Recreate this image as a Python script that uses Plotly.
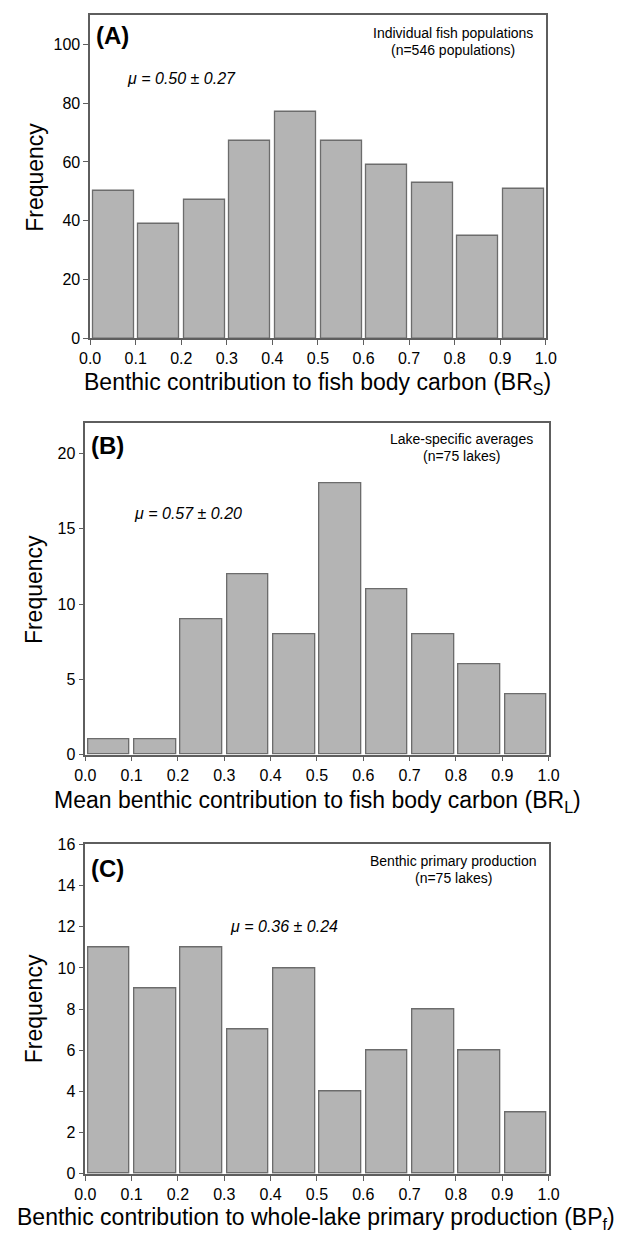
import plotly.graph_objects as go

W, H = 633, 1243

bin_starts = [0.0, 0.1, 0.2, 0.3, 0.4, 0.5, 0.6, 0.7, 0.8, 0.9]
x_ticks = [0.0, 0.1, 0.2, 0.3, 0.4, 0.5, 0.6, 0.7, 0.8, 0.9, 1.0]
x_ticklabels = ["0.0", "0.1", "0.2", "0.3", "0.4", "0.5", "0.6", "0.7", "0.8", "0.9", "1.0"]

freq_A = [50, 39, 47, 67, 77, 67, 59, 53, 35, 51]
freq_B = [1, 1, 9, 12, 8, 18, 11, 8, 6, 4]
freq_C = [11, 9, 11, 7, 10, 4, 6, 8, 6, 3]

yticks_A = [0, 20, 40, 60, 80, 100]
yticks_B = [0, 5, 10, 15, 20]
yticks_C = [0, 2, 4, 6, 8, 10, 12, 14, 16]

xtitle_A = "Benthic contribution to fish body carbon (BR<sub>S</sub>)"
xtitle_B = "Mean benthic contribution to fish body carbon (BR<sub>L</sub>)"
xtitle_C = "Benthic contribution to whole-lake primary production (BP<sub>f</sub>)"

FONT = "Arial, Liberation Sans, sans-serif"
BAR_FILL = "#b4b4b4"
BAR_LINE = "#6c6c6c"
AX = "#5e5e5e"

def px_x(x):
    return x / W

def px_y(y):
    return 1 - y / H

# panel frames in pixels: (left, right, top, bottom)
panels = [
    dict(l=82, r=554, t=7, b=335, freq=freq_A, ymax=110, yt=yticks_A),
    dict(l=77, r=557, t=421, b=757, freq=freq_B, ymax=22, yt=yticks_B),
    dict(l=77, r=557, t=848, b=1182, freq=freq_C, ymax=16, yt=yticks_C),
]

fig = go.Figure()
layout = dict(
    width=W, height=H,
    margin=dict(l=0, r=0, t=0, b=0),
    paper_bgcolor="white", plot_bgcolor="white",
    showlegend=False,
    font=dict(family=FONT, color="black"),
    bargap=0,
)

for i, p in enumerate(panels):
    sfx = "" if i == 0 else str(i + 1)
    fig.add_trace(go.Bar(
        x=[b + 0.051 for b in bin_starts], y=p["freq"], width=0.09,
        marker=dict(color=BAR_FILL, line=dict(color=BAR_LINE, width=1.3)),
        xaxis="x" + sfx, yaxis="y" + sfx, hoverinfo="skip",
    ))
    layout["xaxis" + sfx] = dict(
        domain=[px_x(p["l"]), px_x(p["r"])], range=[0, 1], anchor="y" + sfx,
        tickvals=x_ticks, ticktext=x_ticklabels, ticks="outside", ticklen=5,
        tickcolor=AX, tickwidth=1.3, showline=True, linecolor=AX, linewidth=1.5,
        mirror=True, showgrid=False, zeroline=False,
        tickfont=dict(size=16, family=FONT, color="black"),
    )
    layout["yaxis" + sfx] = dict(
        domain=[px_y(p["b"]), px_y(p["t"])], range=[0, p["ymax"]], anchor="x" + sfx,
        tickvals=p["yt"], ticks="outside", ticklen=5,
        tickcolor=AX, tickwidth=1.3, showline=True, linecolor=AX, linewidth=1.5,
        mirror=True, showgrid=False, zeroline=False,
        tickfont=dict(size=16, family=FONT, color="black"),
    )

annots = []
def ann(text, x, y, size, xanchor="center", bold=False, italic=False, angle=0):
    t = text
    if bold:
        t = "<b>" + t + "</b>"
    if italic:
        t = "<i>" + t + "</i>"
    annots.append(dict(
        text=t, x=px_x(x), y=px_y(y), xref="paper", yref="paper",
        xanchor=xanchor, yanchor="middle", showarrow=False, textangle=angle,
        font=dict(size=size, family=FONT, color="black"),
    ))

# panel labels
ann("(A)", 86, 28, 24, xanchor="left", bold=True)
ann("(B)", 81, 444, 24, xanchor="left", bold=True)
ann("(C)", 81, 872, 24, xanchor="left", bold=True)

# descriptive notes
ann("Individual fish populations", 458, 25, 14)
ann("(n=546 populations)", 458, 43, 14)
ann("Lake-specific averages", 467, 437, 14)
ann("(n=75 lakes)", 467, 454, 14)
ann("Benthic primary production", 458, 865, 14)
ann("(n=75 lakes)", 458, 882, 14)

# mean +- sd
ann("μ = 0.50 ± 0.27", 118, 71, 16, xanchor="left", italic=True)
ann("μ = 0.57 ± 0.20", 125, 513, 16, xanchor="left", italic=True)
ann("μ = 0.36 ± 0.24", 225, 931, 16, xanchor="left", italic=True)

# axis titles
ann(xtitle_A, 318, 381, 23)
ann(xtitle_B, 318, 804, 23)
ann(xtitle_C, 316, 1227, 23)
ann("Frequency", 24, 172, 23, angle=-90)
ann("Frequency", 24, 590, 23, angle=-90)
ann("Frequency", 24, 1015, 23, angle=-90)

layout["annotations"] = annots
fig.update_layout(**layout)
fig.write_html("out.html")
